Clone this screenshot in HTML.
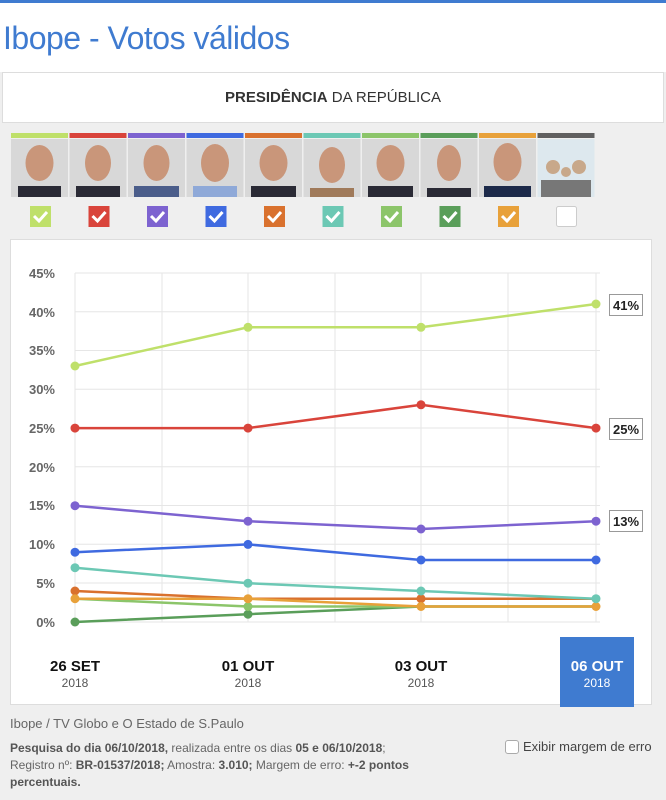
<!DOCTYPE html>
<html><head><meta charset="utf-8"><style>
body{margin:0;width:666px;height:800px;background:#efefef;font-family:"Liberation Sans",sans-serif;overflow:hidden;position:relative}
.top{position:absolute;left:0;top:0;width:666px;height:72px;background:#fff;border-top:3px solid #3f7bd0;box-sizing:border-box}
.title{position:absolute;left:3px;top:20px;font-size:32px;color:#3f7bd0;letter-spacing:-0.5px}
.hdr{position:absolute;left:2px;top:72px;width:660px;height:49px;background:#fff;border:1px solid #ddd;text-align:center;line-height:49px;font-size:15px;color:#333}
.chart{position:absolute;left:10px;top:239px;width:642px;height:466px;background:#fff;border:1px solid #ddd;box-sizing:border-box}
.src{position:absolute;left:10px;top:716px;font-size:13px;color:#666}
.info{position:absolute;left:10px;top:740px;width:420px;font-size:12px;line-height:17px;color:#666}
.info b{color:#555}
.mg{position:absolute;left:505px;top:739px;font-size:13px;color:#444}
.mg span{display:inline-block;width:12px;height:12px;border:1px solid #aaa;border-radius:3px;background:#fff;vertical-align:-3px;margin-right:4px}
</style></head><body>
<div class="top"></div>
<div class="title">Ibope - Votos válidos</div>
<div class="hdr"><b>PRESIDÊNCIA</b> DA REPÚBLICA</div>
<div class="chart"></div>
<svg style="position:absolute;left:0;top:0" width="666" height="800" xmlns="http://www.w3.org/2000/svg" font-family="Liberation Sans, sans-serif">
<g>
<rect x="11" y="133" width="57" height="5" fill="#bfe06a"/><rect x="69.5" y="133" width="57" height="5" fill="#d9443b"/><rect x="128" y="133" width="57" height="5" fill="#7d63d0"/><rect x="186.5" y="133" width="57" height="5" fill="#3f6ae0"/><rect x="245" y="133" width="57" height="5" fill="#d9712e"/><rect x="303.5" y="133" width="57" height="5" fill="#6cc8b4"/><rect x="362" y="133" width="57" height="5" fill="#8cc56a"/><rect x="420.5" y="133" width="57" height="5" fill="#5a9e5a"/><rect x="479" y="133" width="57" height="5" fill="#e8a13a"/><rect x="537.5" y="133" width="57" height="5" fill="#606060"/>
<g fill="#d8d8d8"><rect x="11" y="139" width="57" height="58"/><rect x="69.5" y="139" width="57" height="58"/><rect x="128" y="139" width="57" height="58"/><rect x="186.5" y="139" width="57" height="58"/><rect x="245" y="139" width="57" height="58"/><rect x="303.5" y="139" width="57" height="58"/><rect x="362" y="139" width="57" height="58"/><rect x="420.5" y="139" width="57" height="58"/><rect x="479" y="139" width="57" height="58"/><rect x="537.5" y="139" width="57" height="58" fill="#dde8ee"/></g>
<g fill="#c9967a"><ellipse cx="39.5" cy="163" rx="14" ry="18"/><ellipse cx="98" cy="163" rx="13" ry="18"/><ellipse cx="156.5" cy="163" rx="13" ry="18"/><ellipse cx="215" cy="163" rx="14" ry="19"/><ellipse cx="273.5" cy="163" rx="14" ry="18"/><ellipse cx="332" cy="165" rx="13" ry="18"/><ellipse cx="390.5" cy="163" rx="14" ry="18"/><ellipse cx="449" cy="163" rx="12" ry="18"/><ellipse cx="507.5" cy="162" rx="14" ry="19"/></g>
<g fill="#2a2a35"><rect x="18" y="186" width="43" height="11"/><rect x="76" y="186" width="44" height="11"/><rect x="134" y="186" width="45" height="11" fill="#4b5d8a"/><rect x="193" y="186" width="44" height="11" fill="#8fa9d8"/><rect x="251" y="186" width="45" height="11"/><rect x="310" y="188" width="44" height="9" fill="#a07a5a"/><rect x="368" y="186" width="45" height="11"/><rect x="427" y="188" width="44" height="9"/><rect x="484" y="186" width="47" height="11" fill="#1d2a4a"/></g>
<g fill="#777"><rect x="541" y="180" width="50" height="17"/></g><g fill="#c8a88a"><circle cx="553" cy="167" r="7"/><circle cx="566" cy="172" r="5"/><circle cx="579" cy="167" r="7"/></g>
<g stroke="#fff" stroke-width="3" fill="none">
<rect x="30" y="206" width="21" height="21" fill="#bfe06a" stroke="none"/><rect x="88.5" y="206" width="21" height="21" fill="#d9443b" stroke="none"/><rect x="147" y="206" width="21" height="21" fill="#7d63d0" stroke="none"/><rect x="205.5" y="206" width="21" height="21" fill="#3f6ae0" stroke="none"/><rect x="264" y="206" width="21" height="21" fill="#d9712e" stroke="none"/><rect x="322.5" y="206" width="21" height="21" fill="#6cc8b4" stroke="none"/><rect x="381" y="206" width="21" height="21" fill="#8cc56a" stroke="none"/><rect x="439.5" y="206" width="21" height="21" fill="#5a9e5a" stroke="none"/><rect x="498" y="206" width="21" height="21" fill="#e8a13a" stroke="none"/>
<rect x="556.5" y="206.5" width="20" height="20" fill="#fff" stroke="#ccc" stroke-width="1" rx="2"/>
<path d="M34 216l5 5 8-9"/><path d="M92.5 216l5 5 8-9"/><path d="M151 216l5 5 8-9"/><path d="M209.5 216l5 5 8-9"/><path d="M268 216l5 5 8-9"/><path d="M326.5 216l5 5 8-9"/><path d="M385 216l5 5 8-9"/><path d="M443.5 216l5 5 8-9"/><path d="M502 216l5 5 8-9"/>
</g>
</g>
<g stroke="#e6e6e6" stroke-width="1">
<line x1="75" y1="273" x2="600" y2="273"/><line x1="75" y1="311.8" x2="600" y2="311.8"/><line x1="75" y1="350.5" x2="600" y2="350.5"/><line x1="75" y1="389.3" x2="600" y2="389.3"/><line x1="75" y1="428" x2="600" y2="428"/><line x1="75" y1="466.8" x2="600" y2="466.8"/><line x1="75" y1="505.5" x2="600" y2="505.5"/><line x1="75" y1="544.3" x2="600" y2="544.3"/><line x1="75" y1="583" x2="600" y2="583"/><line x1="75" y1="622" x2="600" y2="622"/>
<line x1="75" y1="273" x2="75" y2="622"/><line x1="162" y1="273" x2="162" y2="622"/><line x1="248" y1="273" x2="248" y2="622"/><line x1="335" y1="273" x2="335" y2="622"/><line x1="421" y1="273" x2="421" y2="622"/><line x1="508" y1="273" x2="508" y2="622"/><line x1="596" y1="273" x2="596" y2="622"/>
</g>
<g font-size="13" fill="#666" font-weight="bold" text-anchor="end">
<text x="55" y="278">45%</text><text x="55" y="317">40%</text><text x="55" y="355">35%</text><text x="55" y="394">30%</text><text x="55" y="433">25%</text><text x="55" y="472">20%</text><text x="55" y="510">15%</text><text x="55" y="549">10%</text><text x="55" y="588">5%</text><text x="55" y="627">0%</text>
</g>
<g fill="none" stroke-width="2.5">
<polyline stroke="#5a9e5a" points="75,622 248,614.2 421,606.5 596,606.5"/>
<polyline stroke="#8cc56a" points="75,598.7 248,606.5 421,606.5 596,606.5"/>
<polyline stroke="#d9712e" points="75,591 248,598.7 421,598.7 596,598.7"/>
<polyline stroke="#e8a13a" points="75,598.7 248,598.7 421,606.5 596,606.5"/>
<polyline stroke="#6cc8b4" points="75,567.7 248,583.2 421,591 596,598.7"/>
<polyline stroke="#3f6ae0" points="75,552.2 248,544.4 421,560 596,560"/>
<polyline stroke="#7d63d0" points="75,505.7 248,521.2 421,529 596,521.2"/>
<polyline stroke="#d9443b" points="75,428.1 248,428.1 421,404.8 596,428.1"/>
<polyline stroke="#bfe06a" points="75,366 248,327.3 421,327.3 596,304"/>
</g>
<g>
<g fill="#5a9e5a"><circle cx="75" cy="622" r="4.5"/><circle cx="248" cy="614.2" r="4.5"/></g>
<g fill="#8cc56a"><circle cx="248" cy="606.5" r="4.5"/></g>
<g fill="#d9712e"><circle cx="75" cy="591" r="4.5"/><circle cx="421" cy="598.7" r="4.5"/></g>
<g fill="#e8a13a"><circle cx="75" cy="598.7" r="4.5"/><circle cx="248" cy="598.7" r="4.5"/><circle cx="421" cy="606.5" r="4.5"/><circle cx="596" cy="606.5" r="4.5"/></g>
<g fill="#6cc8b4"><circle cx="75" cy="567.7" r="4.5"/><circle cx="248" cy="583.2" r="4.5"/><circle cx="421" cy="591" r="4.5"/><circle cx="596" cy="598.7" r="4.5"/></g>
<g fill="#3f6ae0"><circle cx="75" cy="552.2" r="4.5"/><circle cx="248" cy="544.4" r="4.5"/><circle cx="421" cy="560" r="4.5"/><circle cx="596" cy="560" r="4.5"/></g>
<g fill="#7d63d0"><circle cx="75" cy="505.7" r="4.5"/><circle cx="248" cy="521.2" r="4.5"/><circle cx="421" cy="529" r="4.5"/><circle cx="596" cy="521.2" r="4.5"/></g>
<g fill="#d9443b"><circle cx="75" cy="428.1" r="4.5"/><circle cx="248" cy="428.1" r="4.5"/><circle cx="421" cy="404.8" r="4.5"/><circle cx="596" cy="428.1" r="4.5"/></g>
<g fill="#bfe06a"><circle cx="75" cy="366" r="4.5"/><circle cx="248" cy="327.3" r="4.5"/><circle cx="421" cy="327.3" r="4.5"/><circle cx="596" cy="304" r="4.5"/></g>
</g>
<g fill="#fff" stroke="#999" stroke-width="1">
<rect x="609.5" y="294.5" width="33" height="21"/><rect x="609.5" y="418.5" width="33" height="21"/><rect x="609.5" y="510.5" width="33" height="21"/>
</g>
<g font-size="13" font-weight="bold" fill="#222" text-anchor="middle">
<text x="626" y="310">41%</text><text x="626" y="434">25%</text><text x="626" y="526">13%</text>
</g>
<rect x="560" y="637" width="74" height="70" fill="#3f7bd0"/>
<g text-anchor="middle">
<text x="75" y="671" font-size="15" font-weight="bold" fill="#111">26 SET</text><text x="75" y="687" font-size="12" fill="#555">2018</text>
<text x="248" y="671" font-size="15" font-weight="bold" fill="#111">01 OUT</text><text x="248" y="687" font-size="12" fill="#555">2018</text>
<text x="421" y="671" font-size="15" font-weight="bold" fill="#111">03 OUT</text><text x="421" y="687" font-size="12" fill="#555">2018</text>
<text x="597" y="671" font-size="15" font-weight="bold" fill="#fff">06 OUT</text><text x="597" y="687" font-size="12" fill="#fff">2018</text>
</g>
</svg>
<div class="src">Ibope / TV Globo e O Estado de S.Paulo</div>
<div class="info"><b>Pesquisa do dia 06/10/2018,</b> realizada entre os dias <b>05 e 06/10/2018</b>; Registro nº: <b>BR-01537/2018;</b> Amostra: <b>3.010;</b> Margem de erro: <b>+-2 pontos percentuais.</b></div>
<div class="mg"><span></span>Exibir margem de erro</div>
</body></html>
